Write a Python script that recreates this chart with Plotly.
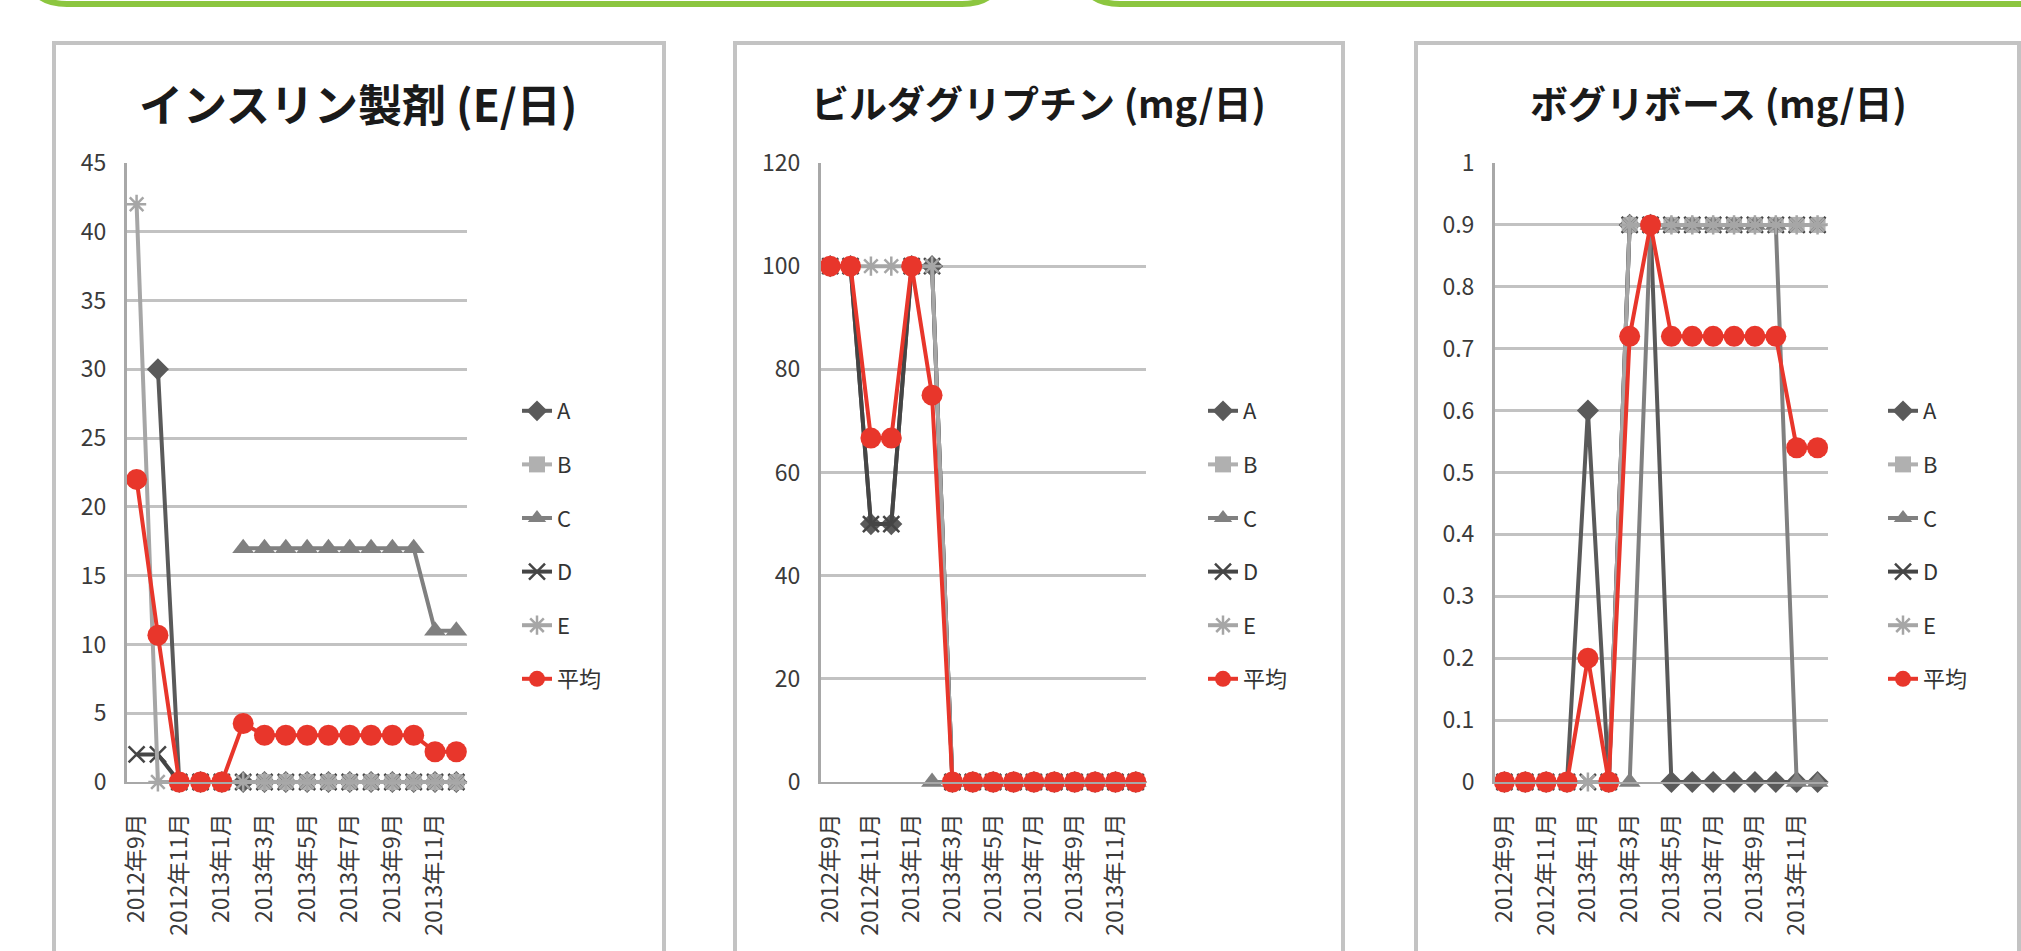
import plotly.graph_objects as go

W, H = 2021, 951

# ---------------- data ----------------
months = ["2012年9月", "2012年10月", "2012年11月", "2012年12月", "2013年1月", "2013年2月",
          "2013年3月", "2013年4月", "2013年5月", "2013年6月", "2013年7月", "2013年8月",
          "2013年9月", "2013年10月", "2013年11月", "2013年12月"]
tick_labels = ["2012年9月", "2012年11月", "2013年1月", "2013年3月",
               "2013年5月", "2013年7月", "2013年9月", "2013年11月"]
series_names = ["A", "B", "C", "D", "E", "平均"]
titles = ["インスリン製剤 (E/日)", "ビルダグリプチン (mg/日)", "ボグリボース (mg/日)"]

# インスリン製剤 (E/日)
ins_A = [None, 30, 0, 0, 0, 0, 0, 0, 0, 0, 0, 0, 0, 0, 0, 0]
ins_B = [None, None, 0, 0, 0, None, 0, 0, 0, 0, 0, 0, 0, 0, 0, 0]
ins_C = [None, None, None, None, None, 17, 17, 17, 17, 17, 17, 17, 17, 17, 11, 11]
ins_D = [2, 2, 0, 0, 0, 0, 0, 0, 0, 0, 0, 0, 0, 0, 0, 0]
ins_E = [42, 0, 0, 0, 0, 0, 0, 0, 0, 0, 0, 0, 0, 0, 0, 0]
ins_avg = [22, 10.67, 0, 0, 0, 4.25, 3.4, 3.4, 3.4, 3.4, 3.4, 3.4, 3.4, 3.4, 2.2, 2.2]

# ビルダグリプチン (mg/日)
vil_A = [100, 100, 50, 50, 100, 100, 0, 0, 0, 0, 0, 0, 0, 0, 0, 0]
vil_B = [None, None, None, None, None, None, 0, 0, 0, 0, 0, 0, 0, 0, 0, 0]
vil_C = [None, None, None, None, None, 0, 0, 0, 0, 0, 0, 0, 0, 0, 0, 0]
vil_D = [100, 100, 50, 50, 100, 100, 0, 0, 0, 0, 0, 0, 0, 0, 0, 0]
vil_E = [100, 100, 100, 100, 100, 100, 0, 0, 0, 0, 0, 0, 0, 0, 0, 0]
vil_avg = [100, 100, 66.67, 66.67, 100, 75, 0, 0, 0, 0, 0, 0, 0, 0, 0, 0]

# ボグリボース (mg/日)
vog_A = [0, 0, 0, 0, 0.6, 0, 0.9, 0.9, 0, 0, 0, 0, 0, 0, 0, 0]
vog_B = [None, None, None, None, None, None, 0.9, 0.9, 0.9, 0.9, 0.9, 0.9, 0.9, 0.9, 0.9, 0.9]
vog_C = [None, None, None, None, None, None, 0, 0.9, 0.9, 0.9, 0.9, 0.9, 0.9, 0.9, 0, 0]
vog_D = [0, 0, 0, 0, 0, 0, 0.9, 0.9, 0.9, 0.9, 0.9, 0.9, 0.9, 0.9, 0.9, 0.9]
vog_E = [0, 0, 0, 0, 0, 0, 0.9, 0.9, 0.9, 0.9, 0.9, 0.9, 0.9, 0.9, 0.9, 0.9]
vog_avg = [0, 0, 0, 0, 0.2, 0, 0.72, 0.9, 0.72, 0.72, 0.72, 0.72, 0.72, 0.72, 0.54, 0.54]

y_ranges = [[0, 45], [0, 120], [0, 1]]
y_dticks = [5, 20, 0.1]

panel_data = [
    [ins_A, ins_B, ins_C, ins_D, ins_E, ins_avg],
    [vil_A, vil_B, vil_C, vil_D, vil_E, vil_avg],
    [vog_A, vog_B, vog_C, vog_D, vog_E, vog_avg],
]

# ---------------- styles ----------------
FONT = "Noto Sans CJK JP"
colors = ["#5A5A5A", "#B0B0B0", "#808080", "#454545", "#A6A6A6", "#E8362B"]
symbols = ["diamond", "square", "triangle-up", "x-thin", "asterisk", "circle"]
msizes = [17, 16, 19, 16, 16, 21]

# pixel geometry of panels
plot_x = [(127, 467), (821, 1146), (1495, 1828)]
plot_y = (163, 782)
title_pos = [(358, 103, 44), (1038, 101, 38), (1718, 101, 38)]
legend_x = [517, 1203, 1883]
legend_top = 390
panel_box = [(54, 664), (735, 1343), (1416, 2019)]

fig = go.Figure()

for p in range(3):
    ax = "" if p == 0 else str(p + 1)
    leg = "legend" if p == 0 else "legend" + str(p + 1)
    for s in range(6):
        thin = symbols[s] in ("x-thin", "asterisk")
        marker = dict(symbol=symbols[s], size=msizes[s], color=colors[s])
        if thin:
            marker["line"] = dict(color=colors[s], width=2.5)
        else:
            marker["line"] = dict(width=0)
        fig.add_trace(go.Scatter(
            x=months, y=panel_data[p][s], name=series_names[s],
            mode="lines+markers",
            line=dict(color=colors[s], width=4),
            marker=marker, cliponaxis=False,
            xaxis="x" + ax, yaxis="y" + ax,
            legend=leg, legendgroup=f"p{p}{s}",
            showlegend=True,
        ))

layout = dict(
    width=W, height=H, autosize=False,
    margin=dict(l=0, r=0, t=0, b=0, pad=0, autoexpand=False),
    paper_bgcolor="white", plot_bgcolor="white",
    font=dict(family=FONT, color="#404040"),
    showlegend=True,
)

annotations = []
shapes = []
for p in range(3):
    ax = "" if p == 0 else str(p + 1)
    x0, x1 = plot_x[p]
    layout["xaxis" + ax] = dict(
        domain=[x0 / W, x1 / W], anchor="y" + ax, automargin=False,
        type="category", categoryorder="array", categoryarray=months,
        range=[-0.45, 15.5],
        tickmode="array", tickvals=tick_labels, ticktext=tick_labels,
        tickangle=-90, showgrid=False, zeroline=False,
        showline=True, linecolor="#A8A8A8", linewidth=2,
        ticks="", ticklabelstandoff=20,
        tickfont=dict(family=FONT, size=23, color="#3A3A3A"),
    )
    layout["yaxis" + ax] = dict(
        domain=[1 - plot_y[1] / H, 1 - plot_y[0] / H], anchor="x" + ax, automargin=False,
        range=y_ranges[p], dtick=y_dticks[p], tick0=0,
        showgrid=True, gridcolor="#C2C2C2", gridwidth=3, zeroline=False,
        showline=True, linecolor="#A8A8A8", linewidth=3,
        ticks="", ticklabelstandoff=13,
        tickfont=dict(family=FONT, size=23, color="#3A3A3A"),
    )
    leg = "legend" if p == 0 else "legend" + str(p + 1)
    layout[leg] = dict(
        x=legend_x[p] / W, y=1 - legend_top / H, xanchor="left", yanchor="top",
        font=dict(family=FONT, size=22, color="#333333"),
        traceorder="grouped", tracegroupgap=22,
        bgcolor="rgba(0,0,0,0)", itemsizing="trace",
    )
    tx, ty, ts = title_pos[p]
    annotations.append(dict(
        text="<b>" + titles[p] + "</b>", x=tx / W, y=1 - ty / H,
        xref="paper", yref="paper", xanchor="center", yanchor="middle",
        showarrow=False, font=dict(family=FONT, size=ts, color="#1A1A1A"),
    ))
    bx0, bx1 = panel_box[p]
    shapes.append(dict(
        type="rect", xref="paper", yref="paper",
        x0=bx0 / W, x1=bx1 / W, y0=-0.05, y1=1 - 43 / H,
        line=dict(color="#C3C3C3", width=4), fillcolor="rgba(0,0,0,0)", layer="below",
    ))

# green rounded boxes at the top (bottom edges of page elements)
def green_box(x0, x1, r=40, yb=4):
    rx, ry = r / W, r / H
    X0, X1 = x0 / W, x1 / W
    YB = 1 - yb / H
    YT = 1 + 60 / H
    return (f"M {X0},{YT} L {X0},{YB + ry} Q {X0},{YB} {X0 + rx},{YB} "
            f"L {X1 - rx},{YB} Q {X1},{YB} {X1},{YB + ry} L {X1},{YT}")

for gx0, gx1 in [(27, 1002), (1080, 2100)]:
    shapes.append(dict(type="path", xref="paper", yref="paper",
                       path=green_box(gx0, gx1),
                       line=dict(color="#8CC63F", width=6)))

layout["annotations"] = annotations
layout["shapes"] = shapes
fig.update_layout(**layout)

fig.write_html("out.html",
               config={"displayModeBar": False, "responsive": False},
               post_script="document.body.style.margin='0';document.body.style.overflow='hidden';")
